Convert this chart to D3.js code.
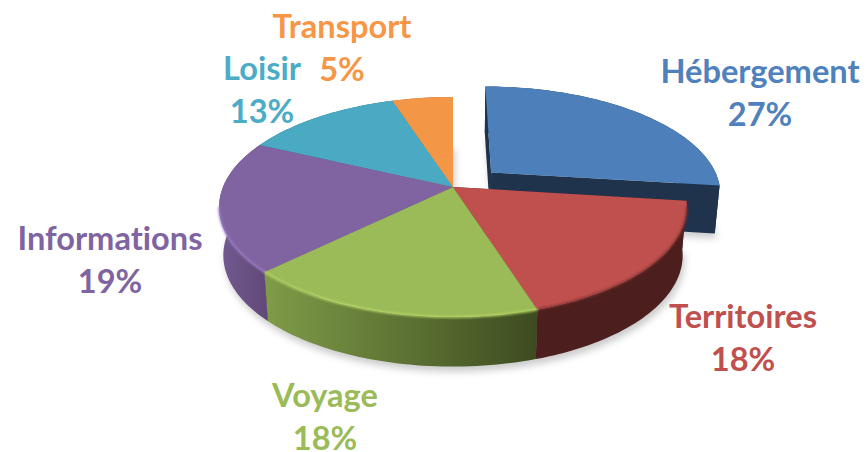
<!DOCTYPE html>
<html lang="fr">
<head>
<meta charset="utf-8">
<title>Répartition</title>
<script src="https://cdn.jsdelivr.net/npm/d3@7"></script>
<style>
    html, body { margin: 0; padding: 0; background: #fff; }
    svg { display: block; }
    text { font-family: Lato, "Open Sans", sans-serif; font-weight: 700; text-anchor: middle; font-variant-ligatures: none; }
</style>
</head>
<body>
<div id="pie"></div>
<script>
// values, clockwise from the top; labels show them rounded
var categories = ["Hébergement", "Territoires", "Voyage", "Informations", "Loisir", "Transport"];
var shares = [27, 18.1, 17.6, 19.3, 13, 5];
var explodedCategories = ["Hébergement"];

// styles
var faceColors = ["#4d80bb", "#bf504d", "#9bbb59", "#8064a2", "#4aa9c3", "#f39645"];
var labelColors = ["#4f81bd", "#c0504d", "#9bbb59", "#8064a2", "#4bacc6", "#f79646"];
var wallStarts = ["#1f334d", "#4c1f1e", "#7f9c48", "#735a90", "#2f6f80", "#a06028"];
var wallEnds = ["#1f334d", "#4c1f1e", "#3d4b20", "#604878", "#2f6f80", "#a06028"];
var bevelColors = [null, "#7c2f2d", "#bbdb66", "#9a7cc4", null, null];

var vWidth = 866, vHeight = 452;
var vCenterX = 453, vCenterY = 187;
var vDepth = 48;
var vTilt = 0.1818;         // perspective strength on the far/near axis
var vRadiusX = 230, vRadiusY = 106.4;
var vExplodeU = 0.17, vExplodeV = 0.14;

var svg = d3.select("#pie")
    .append("svg")
    .attr("width", vWidth)
    .attr("height", vHeight);

var defs = svg.append("defs");
defs.append("filter").attr("id", "soft").attr("x", "-20%").attr("y", "-20%")
    .attr("width", "140%").attr("height", "140%")
    .append("feGaussianBlur").attr("stdDeviation", 3.5);
defs.append("filter").attr("id", "bevel").attr("x", "-5%").attr("y", "-5%")
    .attr("width", "110%").attr("height", "110%")
    .append("feGaussianBlur").attr("stdDeviation", 0.9);

categories.forEach(function (aName, aIndex) {
    var vGrad = defs.append("linearGradient").attr("id", "wall" + aIndex);
    vGrad.append("stop").attr("offset", "0%").attr("stop-color", wallStarts[aIndex]);
    vGrad.append("stop").attr("offset", "100%").attr("stop-color", wallEnds[aIndex]);
});

var vXScale = d3.scaleLinear().domain([-1, 1]).range([vCenterX - vRadiusX, vCenterX + vRadiusX]);
var vYScale = d3.scaleLinear().domain([-1, 1]).range([vCenterY - vRadiusY, vCenterY + vRadiusY]);

var vSlices = d3.pie().sort(null).value(function (aItem) { return aItem; })(shares);

// a point on the disc (u right, v far) to the screen, level 0 = top face, 1 = bottom face
function project(aU, aV, aLevel) {
    var vW = 1 + vTilt * aV;
    var vX = vXScale(aU / vW);
    var vY = vYScale(-aV / vW);
    if (aLevel) {
        vX = vCenterX + (vX - vCenterX) * 0.982;
        vY = vCenterY + (vY - vCenterY) * 1.012 + vDepth;
    }
    return [vX, vY];
}

function rimPoints(aSlice, aLevel) {
    var vOff = explodedCategories.indexOf(categories[aSlice.index]) >= 0 ? 1 : 0;
    var vSteps = Math.ceil((aSlice.endAngle - aSlice.startAngle) * 40);
    return d3.range(vSteps + 1).map(function (aStep) {
        var vAngle = aSlice.startAngle + (aSlice.endAngle - aSlice.startAngle) * aStep / vSteps;
        return project(Math.sin(vAngle) + vOff * vExplodeU, Math.cos(vAngle) + vOff * vExplodeV, aLevel);
    });
}

function apexPoint(aSlice, aLevel) {
    var vOff = explodedCategories.indexOf(categories[aSlice.index]) >= 0 ? 1 : 0;
    return project(vOff * vExplodeU, vOff * vExplodeV, aLevel);
}

var vLine = d3.line();
function closedPath(aPoints) { return vLine(aPoints) + "Z"; }

// shadow under the whole thing
svg.append("g")
    .attr("transform", "translate(2,5)")
    .attr("filter", "url(#soft)")
    .attr("opacity", 0.38)
    .selectAll("path")
    .data(vSlices)
    .enter()
    .append("path")
    .attr("fill", "#777")
    .attr("d", function (aSlice) {
        return closedPath([apexPoint(aSlice, 1)].concat(rimPoints(aSlice, 1)));
    });

// walls first, the faces cover whatever is hidden
var vWalls = svg.append("g");
vSlices.forEach(function (aSlice) {
    var vTop = rimPoints(aSlice, 0), vBottom = rimPoints(aSlice, 1);
    var vApexTop = apexPoint(aSlice, 0), vApexBottom = apexPoint(aSlice, 1);
    vWalls.append("path")
        .attr("fill", wallEnds[aSlice.index])
        .attr("d", closedPath([vApexTop, vTop[0], vBottom[0], vApexBottom]));
    vWalls.append("path")
        .attr("fill", wallEnds[aSlice.index])
        .attr("d", closedPath([vApexTop, vTop[vTop.length - 1], vBottom[vBottom.length - 1], vApexBottom]));
});
vSlices.forEach(function (aSlice) {
    var vTop = rimPoints(aSlice, 0), vBottom = rimPoints(aSlice, 1);
    vWalls.append("path")
        .attr("fill", "url(#wall" + aSlice.index + ")")
        .attr("d", closedPath(vTop.concat(vBottom.slice().reverse())));
});

// top faces
svg.append("g")
    .selectAll("path")
    .data(vSlices)
    .enter()
    .append("path")
    .attr("fill", function (aSlice) { return faceColors[aSlice.index]; })
    .attr("d", function (aSlice) {
        return closedPath([apexPoint(aSlice, 0)].concat(rimPoints(aSlice, 0)));
    });

// soft bevel along the near rim only
svg.append("g")
    .attr("filter", "url(#bevel)")
    .attr("fill", "none")
    .attr("stroke-width", 1.8)
    .selectAll("path")
    .data(vSlices.filter(function (aSlice) { return bevelColors[aSlice.index]; }))
    .enter()
    .append("path")
    .attr("stroke", function (aSlice) { return bevelColors[aSlice.index]; })
    .attr("d", function (aSlice) {
        return vLine(rimPoints(aSlice, 0).filter(function (aPoint) {
            return aPoint[1] > vCenterY + 18;
        }));
    });

// labels, two lines each
var vLabelX = [760, 743, 325, 110, 262, 342];
var vLabelY = [83, 328, 407, 250, 80, 38];
var vLabels = svg.append("g").attr("font-size", 32.6);
categories.forEach(function (aName, aIndex) {
    var vText = vLabels.append("text")
        .attr("fill", labelColors[aIndex])
        .attr("x", vLabelX[aIndex])
        .attr("y", vLabelY[aIndex]);
    vText.append("tspan").text(aName);
    vText.append("tspan")
        .attr("x", vLabelX[aIndex])
        .attr("dy", 43)
        .text(Math.round(shares[aIndex]) + "%");
});
</script>
</body>
</html>
